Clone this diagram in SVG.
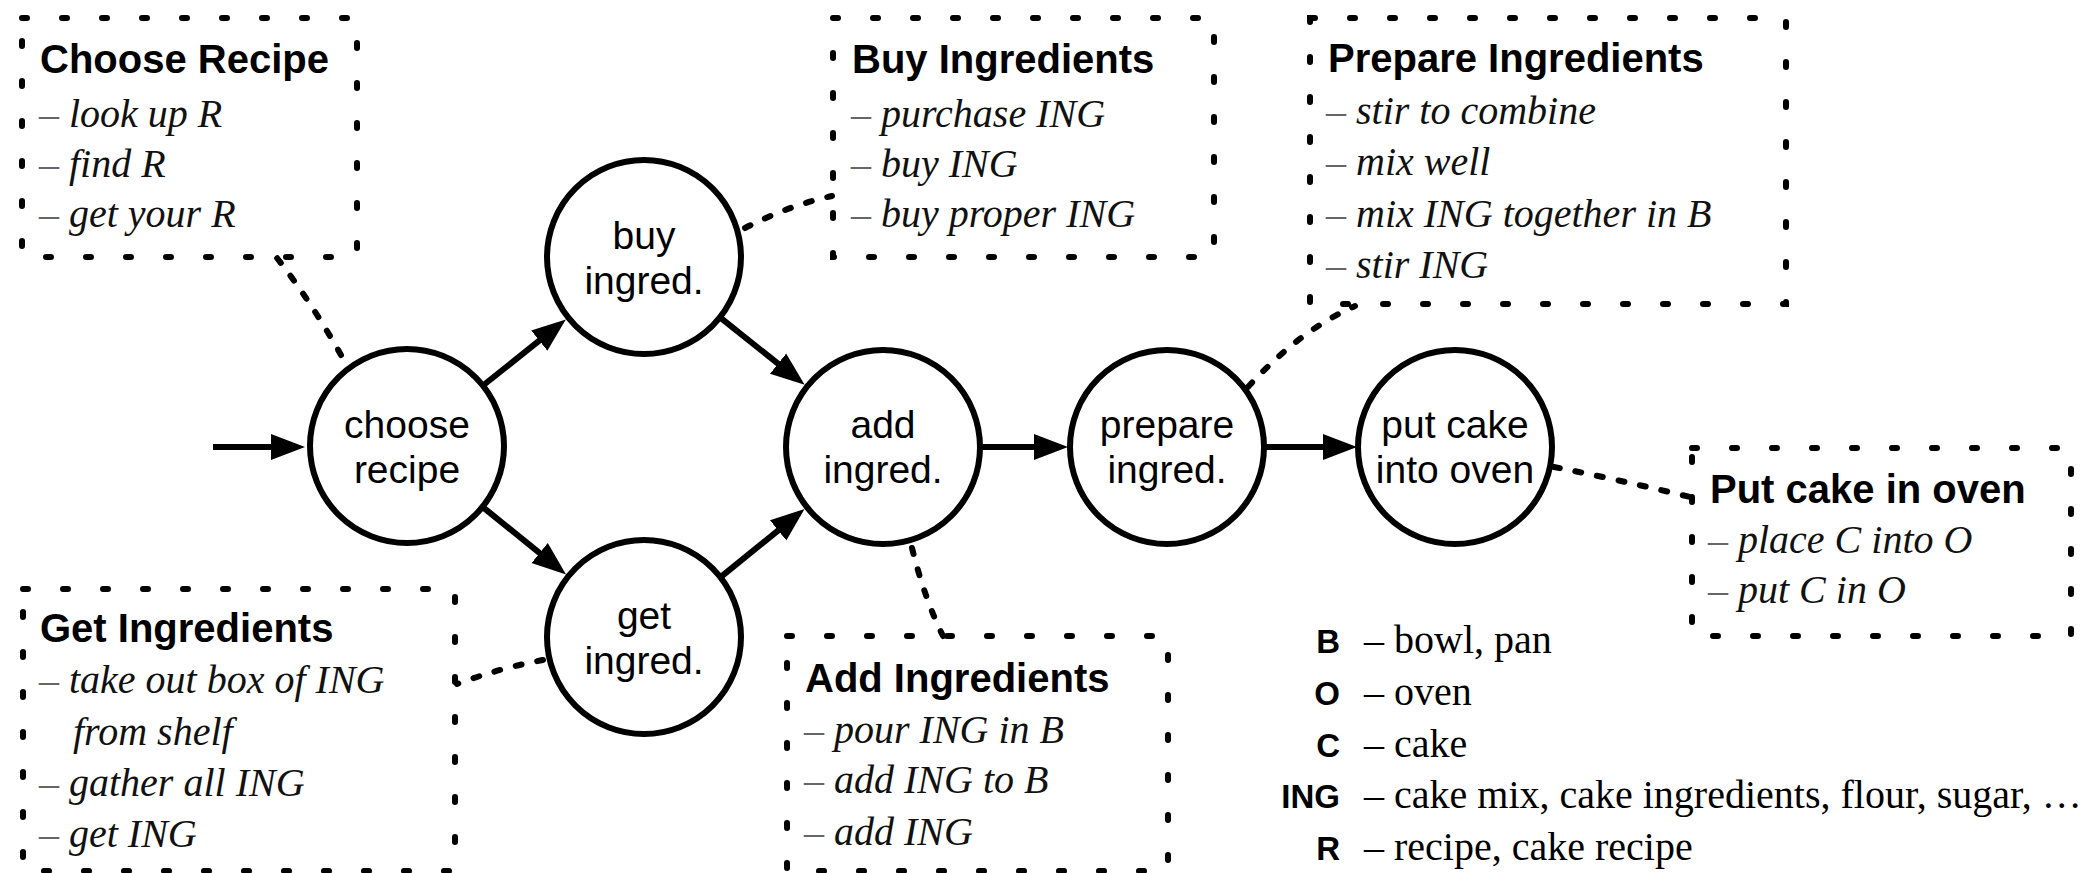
<svg xmlns="http://www.w3.org/2000/svg" width="2100" height="873" viewBox="0 0 2100 873">
<defs>
<style>
.box{fill:none;stroke:#000;stroke-width:6;stroke-dasharray:5 35;stroke-linecap:round}
.node{fill:#fff;stroke:#000;stroke-width:6}
.ntxt{font-family:"Liberation Sans",Arial,sans-serif;font-size:39px;fill:#000;text-anchor:middle}
.title{font-family:"Liberation Sans",Arial,sans-serif;font-size:40px;font-weight:bold;fill:#000}
.item{font-family:"Liberation Serif","Times New Roman",serif;font-size:40px;font-style:italic;fill:#111}
.dash{fill:#666;font-style:normal}
.arrow{fill:none;stroke:#000;stroke-width:6}
.dot{fill:none;stroke:#000;stroke-width:6;stroke-dasharray:6 16;stroke-linecap:round}
.key{font-family:"Liberation Sans",Arial,sans-serif;font-size:33px;font-weight:bold;fill:#000;text-anchor:end}
.desc{font-family:"Liberation Serif","Times New Roman",serif;font-size:40px;fill:#000}
</style>
<marker id="ah" markerUnits="userSpaceOnUse" markerWidth="40" markerHeight="30" viewBox="0 -15 40 30" refX="14" refY="0" orient="auto">
<path d="M0,-13 L34,0 L0,13 z" fill="#000"/>
</marker>
</defs>
<rect width="2100" height="873" fill="#fff"/>

<g id="connectors">
<line class="arrow" x1="213" y1="447" x2="285" y2="447" marker-end="url(#ah)"/>
<line class="arrow" x1="483" y1="385.5" x2="550.2" y2="331.9" marker-end="url(#ah)"/>
<line class="arrow" x1="720" y1="317.4" x2="789" y2="372.4" marker-end="url(#ah)"/>
<line class="arrow" x1="482.5" y1="506.8" x2="550.5" y2="561.8" marker-end="url(#ah)"/>
<line class="arrow" x1="720" y1="577.7" x2="789" y2="521.6" marker-end="url(#ah)"/>
<line class="arrow" x1="980" y1="447" x2="1048" y2="447" marker-end="url(#ah)"/>
<line class="arrow" x1="1264" y1="447" x2="1337" y2="447" marker-end="url(#ah)"/>
<path class="dot" d="M341,355 Q310,300 277,258"/>
<path class="dot" d="M745,228 Q790,205 832,196"/>
<path class="dot" d="M543,660 Q500,668 457,684"/>
<path class="dot" d="M912,548 Q925,600 943,636"/>
<path class="dot" d="M1248,387 Q1300,330 1355,306"/>
<path class="dot" d="M1554,467 Q1620,480 1690,497"/>
</g>

<g id="node-choose">
<circle class="node" cx="407" cy="446" r="97"/>
<text class="ntxt" x="407" y="438">choose</text>
<text class="ntxt" x="407" y="483">recipe</text>
</g>
<g id="node-buy">
<circle class="node" cx="644" cy="257" r="97"/>
<text class="ntxt" x="644" y="249">buy</text>
<text class="ntxt" x="644" y="294">ingred.</text>
</g>
<g id="node-get">
<circle class="node" cx="644" cy="637" r="97"/>
<text class="ntxt" x="644" y="629">get</text>
<text class="ntxt" x="644" y="674">ingred.</text>
</g>
<g id="node-add">
<circle class="node" cx="883" cy="447" r="97"/>
<text class="ntxt" x="883" y="438">add</text>
<text class="ntxt" x="883" y="483">ingred.</text>
</g>
<g id="node-prepare">
<circle class="node" cx="1167" cy="447" r="97"/>
<text class="ntxt" x="1167" y="438">prepare</text>
<text class="ntxt" x="1167" y="483">ingred.</text>
</g>
<g id="node-put">
<circle class="node" cx="1455" cy="447" r="97"/>
<text class="ntxt" x="1455" y="438">put cake</text>
<text class="ntxt" x="1455" y="483">into oven</text>
</g>

<g id="box-choose">
<rect class="box" x="22" y="18" width="335" height="239"/>
<text class="title" x="40" y="73">Choose Recipe</text>
<text class="item" x="39" y="127"><tspan class="dash">–</tspan> look up R</text>
<text class="item" x="39" y="177"><tspan class="dash">–</tspan> find R</text>
<text class="item" x="39" y="227"><tspan class="dash">–</tspan> get your R</text>
</g>
<g id="box-buy">
<rect class="box" x="833" y="18" width="381" height="239"/>
<text class="title" x="852" y="73">Buy Ingredients</text>
<text class="item" x="851" y="127"><tspan class="dash">–</tspan> purchase ING</text>
<text class="item" x="851" y="177"><tspan class="dash">–</tspan> buy ING</text>
<text class="item" x="851" y="227"><tspan class="dash">–</tspan> buy proper ING</text>
</g>
<g id="box-prepare">
<rect class="box" x="1310" y="18" width="476" height="286"/>
<text class="title" x="1328" y="72">Prepare Ingredients</text>
<text class="item" x="1326" y="124"><tspan class="dash">–</tspan> stir to combine</text>
<text class="item" x="1326" y="175"><tspan class="dash">–</tspan> mix well</text>
<text class="item" x="1326" y="227"><tspan class="dash">–</tspan> mix ING together in B</text>
<text class="item" x="1326" y="278"><tspan class="dash">–</tspan> stir ING</text>
</g>
<g id="box-get">
<rect class="box" x="23" y="589" width="432" height="282"/>
<text class="title" x="40" y="642">Get Ingredients</text>
<text class="item" x="39" y="693"><tspan class="dash">–</tspan> take out box of ING</text>
<text class="item" x="73" y="745">from shelf</text>
<text class="item" x="39" y="796"><tspan class="dash">–</tspan> gather all ING</text>
<text class="item" x="39" y="847"><tspan class="dash">–</tspan> get ING</text>
</g>
<g id="box-add">
<rect class="box" x="787" y="636" width="381" height="235"/>
<text class="title" x="805" y="692">Add Ingredients</text>
<text class="item" x="804" y="743"><tspan class="dash">–</tspan> pour ING in B</text>
<text class="item" x="804" y="793"><tspan class="dash">–</tspan> add ING to B</text>
<text class="item" x="804" y="845"><tspan class="dash">–</tspan> add ING</text>
</g>
<g id="box-put">
<rect class="box" x="1692" y="448" width="379" height="188"/>
<text class="title" x="1710" y="503">Put cake in oven</text>
<text class="item" x="1708" y="553"><tspan class="dash">–</tspan> place C into O</text>
<text class="item" x="1708" y="603"><tspan class="dash">–</tspan> put C in O</text>
</g>

<g id="legend">
<text class="key" x="1340" y="653">B</text>
<text class="desc" x="1364" y="653">– bowl, pan</text>
<text class="key" x="1340" y="705">O</text>
<text class="desc" x="1364" y="705">– oven</text>
<text class="key" x="1340" y="757">C</text>
<text class="desc" x="1364" y="757">– cake</text>
<text class="key" x="1340" y="808">ING</text>
<text class="desc" x="1364" y="808">– cake mix, cake ingredients, flour, sugar, …</text>
<text class="key" x="1340" y="860">R</text>
<text class="desc" x="1364" y="860">– recipe, cake recipe</text>
</g>
</svg>
